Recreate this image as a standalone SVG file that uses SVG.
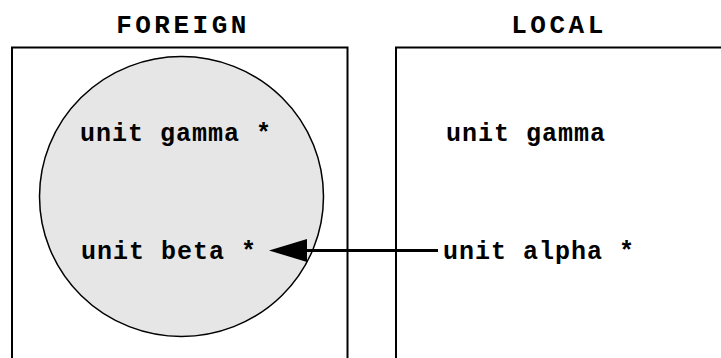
<svg xmlns="http://www.w3.org/2000/svg" width="721" height="358" viewBox="0 0 721 358">
<style>
.t{font-family:"Liberation Mono","Courier New",monospace;font-weight:bold;fill:#000}
.title{font-size:26px;letter-spacing:3.5px}
.lbl{font-size:25px;letter-spacing:1px}
.box{fill:none;stroke:#000;stroke-width:2}
</style>
<rect width="721" height="358" fill="#fff"/>
<g id="foreign">
<path class="box" d="M12,358 V47.5 H347.5 V358"/>
<ellipse cx="181.5" cy="196.5" rx="142" ry="140" fill="#e6e6e6" stroke="#000" stroke-width="1.5"/>
<text class="t title" x="183" y="33" text-anchor="middle">FOREIGN</text>
</g>
<g id="local">
<path class="box" d="M396,358 V47.5 H722"/>
<text class="t title" x="559" y="33" text-anchor="middle">LOCAL</text>
</g>
<g id="foreign-gamma"><text class="t lbl" x="80" y="141">unit gamma *</text></g>
<g id="foreign-beta"><text class="t lbl" x="81" y="259">unit beta *</text></g>
<g id="local-gamma"><text class="t lbl" x="446" y="141">unit gamma</text></g>
<g id="local-alpha"><text class="t lbl" x="443" y="259">unit alpha *</text></g>
<g id="connectors">
<line x1="438" y1="250.5" x2="305" y2="250.5" stroke="#000" stroke-width="3"/>
<polygon points="269,250.5 307,239 307,262" fill="#000"/>
</g>
</svg>
